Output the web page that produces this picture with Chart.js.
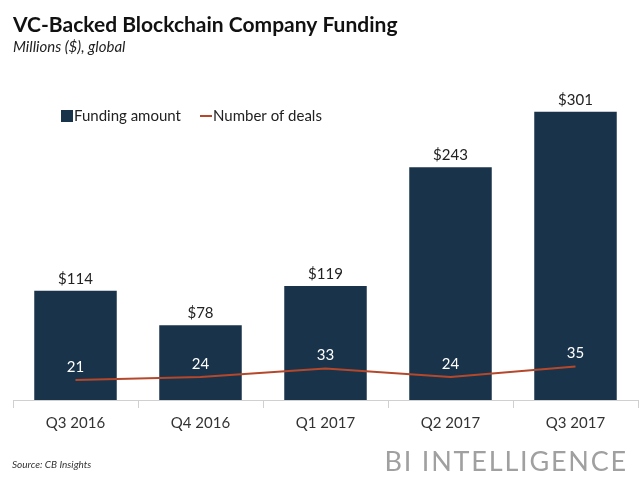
<!DOCTYPE html>
<html>
<head>
  <meta charset="UTF-8" />
  <title>VC-Backed Blockchain Company Funding</title>
  <style>
    body { margin: 0; background: #fff; }
    #wrap { position: relative; width: 640px; height: 480px; }
    .source { position: absolute; left: 12px; top: 458px; font: italic 10px Lato, sans-serif; color: #333; }
    .brand { position: absolute; right: 12px; top: 444px; font: 27px Lato, sans-serif; color: #a0a0a0; letter-spacing: 1.8px; }
  </style>
</head>
<body>
  <div id="wrap">
    <canvas id="fundingChart"></canvas>
    <div class="source">Source: CB Insights</div>
    <div class="brand">BI INTELLIGENCE</div>
  </div>
  <script src="https://cdn.jsdelivr.net/npm/chart.js"></script>
  <script>
    const quarters = ['Q3 2016', 'Q4 2016', 'Q1 2017', 'Q2 2017', 'Q3 2017'];
    const funding = [114, 78, 119, 243, 301];
    const deals = [21, 24, 33, 24, 35];

    const barColor = '#19334a';
    const lineColor = '#b5482b';
    const fontFamily = 'Lato, sans-serif';

    // value labels: $ above bars, deal counts in white above the line
    const labelPlugin = {
      id: 'labels',
      afterDatasetsDraw(chart) {
        const ctx = chart.ctx;
        ctx.save();
        ctx.font = '15px ' + fontFamily;
        ctx.textAlign = 'center';
        ctx.textBaseline = 'middle';
        chart.getDatasetMeta(1).data.forEach((bar, i) => {
          ctx.fillStyle = '#222';
          ctx.fillText('$' + funding[i], bar.x, bar.y - 12);
        });
        chart.getDatasetMeta(0).data.forEach((pt, i) => {
          ctx.fillStyle = '#fff';
          ctx.fillText(deals[i], pt.x, pt.y - 13);
        });
        ctx.restore();
      }
    };

    // legend sits inside the plot area, top left
    const legendPlugin = {
      id: 'insideLegend',
      afterDraw(chart) {
        const ctx = chart.ctx;
        const y = 116;
        ctx.save();
        ctx.font = '15px ' + fontFamily;
        ctx.textBaseline = 'middle';
        ctx.fillStyle = barColor;
        ctx.fillRect(61, y - 6, 12, 12);
        ctx.fillStyle = '#222';
        ctx.fillText(chart.data.datasets[1].label, 74, y);
        ctx.strokeStyle = lineColor;
        ctx.lineWidth = 2;
        ctx.beginPath();
        ctx.moveTo(200, y);
        ctx.lineTo(212, y);
        ctx.stroke();
        ctx.fillText(chart.data.datasets[0].label, 213, y);
        ctx.restore();
      }
    };

    new Chart(document.getElementById('fundingChart'), {
      data: {
        labels: quarters,
        datasets: [{
          type: 'line',
          label: 'Number of deals',
          data: deals,
          borderColor: lineColor,
          borderWidth: 2,
          pointRadius: 0,
          tension: 0,
          order: 0
        }, {
          type: 'bar',
          label: 'Funding amount',
          data: funding,
          backgroundColor: barColor,
          categoryPercentage: 1,
          barPercentage: 0.66,
          order: 1
        }]
      },
      options: {
        responsive: true,
        maintainAspectRatio: false,
        animation: false,
        layout: { padding: { left: 13, right: 2, bottom: 42 } },
        plugins: {
          legend: { display: false },
          tooltip: { enabled: false },
          title: {
            display: true,
            text: 'VC-Backed Blockchain Company Funding',
            align: 'start',
            color: '#111',
            font: { family: fontFamily, size: 21, weight: 'bold' },
            padding: { top: 13, bottom: 0 }
          },
          subtitle: {
            display: true,
            text: 'Millions ($), global',
            align: 'start',
            color: '#222',
            font: { family: fontFamily, size: 15, style: 'italic' },
            padding: { top: 0, bottom: 22 }
          }
        },
        scales: {
          x: {
            offset: true,
            grid: { offset: true, drawOnChartArea: false, tickLength: 8, color: '#d0d0d0' },
            border: { color: '#d0d0d0' },
            ticks: { color: '#333', padding: 6, font: { family: fontFamily, size: 15 } }
          },
          y: {
            display: false,
            min: 0,
            max: 336
          }
        }
      },
      plugins: [labelPlugin, legendPlugin]
    });
  </script>
</body>
</html>
